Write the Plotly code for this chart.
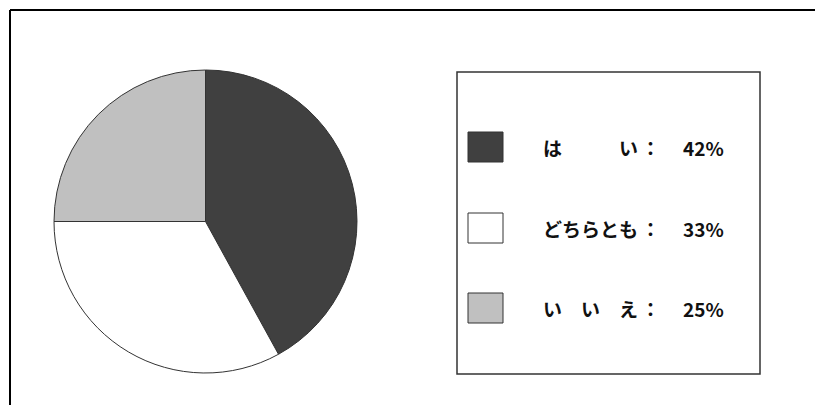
import plotly.graph_objects as go

# Data
labels = ["は　　　い", "どちらとも", "い　い　え"]
values = [42, 33, 25]
colors = ["#404040", "#ffffff", "#c0c0c0"]

W, H = 815, 405

def px(x):
    return x / W

def py(y):
    return 1 - y / H

fig = go.Figure()

fig.add_trace(go.Pie(
    labels=labels,
    values=values,
    sort=False,
    direction="clockwise",
    rotation=0,
    textinfo="none",
    hoverinfo="label+percent",
    marker=dict(colors=colors, line=dict(color="#333333", width=1)),
    domain=dict(x=[px(54), px(357)], y=[py(373), py(70)]),
    showlegend=False,
))

shapes = []
# outer frame (open to the right and bottom): top and left lines only
shapes.append(dict(type="line", xref="paper", yref="paper",
                   x0=px(10), x1=1.0, y0=py(10), y1=py(10),
                   line=dict(color="#000000", width=2)))
shapes.append(dict(type="line", xref="paper", yref="paper",
                   x0=px(10), x1=px(10), y0=0.0, y1=py(10),
                   line=dict(color="#000000", width=2)))
# legend box
shapes.append(dict(type="rect", xref="paper", yref="paper",
                   x0=px(457), x1=px(760), y0=py(374), y1=py(72),
                   line=dict(color="#333333", width=1.5), fillcolor="#ffffff", layer="below"))

row_centers = [147, 228, 308]
annotations = []
font = dict(family="Noto Sans CJK JP", size=19, color="#111111", weight="bold")
total = sum(values)
for i, (lab, val, col) in enumerate(zip(labels, values, colors)):
    yc = row_centers[i]
    shapes.append(dict(type="rect", xref="paper", yref="paper",
                       x0=px(468), x1=px(503), y0=py(yc + 15), y1=py(yc - 15),
                       line=dict(color="#333333", width=1), fillcolor=col))
    annotations.append(dict(xref="paper", yref="paper", x=px(541), y=py(yc),
                            xanchor="left", yanchor="middle", text=lab,
                            showarrow=False, font=font))
    annotations.append(dict(xref="paper", yref="paper", x=px(650), y=py(yc),
                            xanchor="center", yanchor="middle", text="：",
                            showarrow=False, font=font))
    annotations.append(dict(xref="paper", yref="paper", x=px(681), y=py(yc),
                            xanchor="left", yanchor="middle",
                            text=f"{round(val * 100 / total)}%",
                            showarrow=False, font=font))

fig.update_layout(
    width=W, height=H,
    margin=dict(l=0, r=0, t=0, b=0),
    paper_bgcolor="#ffffff",
    plot_bgcolor="#ffffff",
    shapes=shapes,
    annotations=annotations,
)

fig.write_html("out.html",
               config={"displayModeBar": False},
               post_script="document.body.style.margin='0';document.body.style.overflow='hidden';")
